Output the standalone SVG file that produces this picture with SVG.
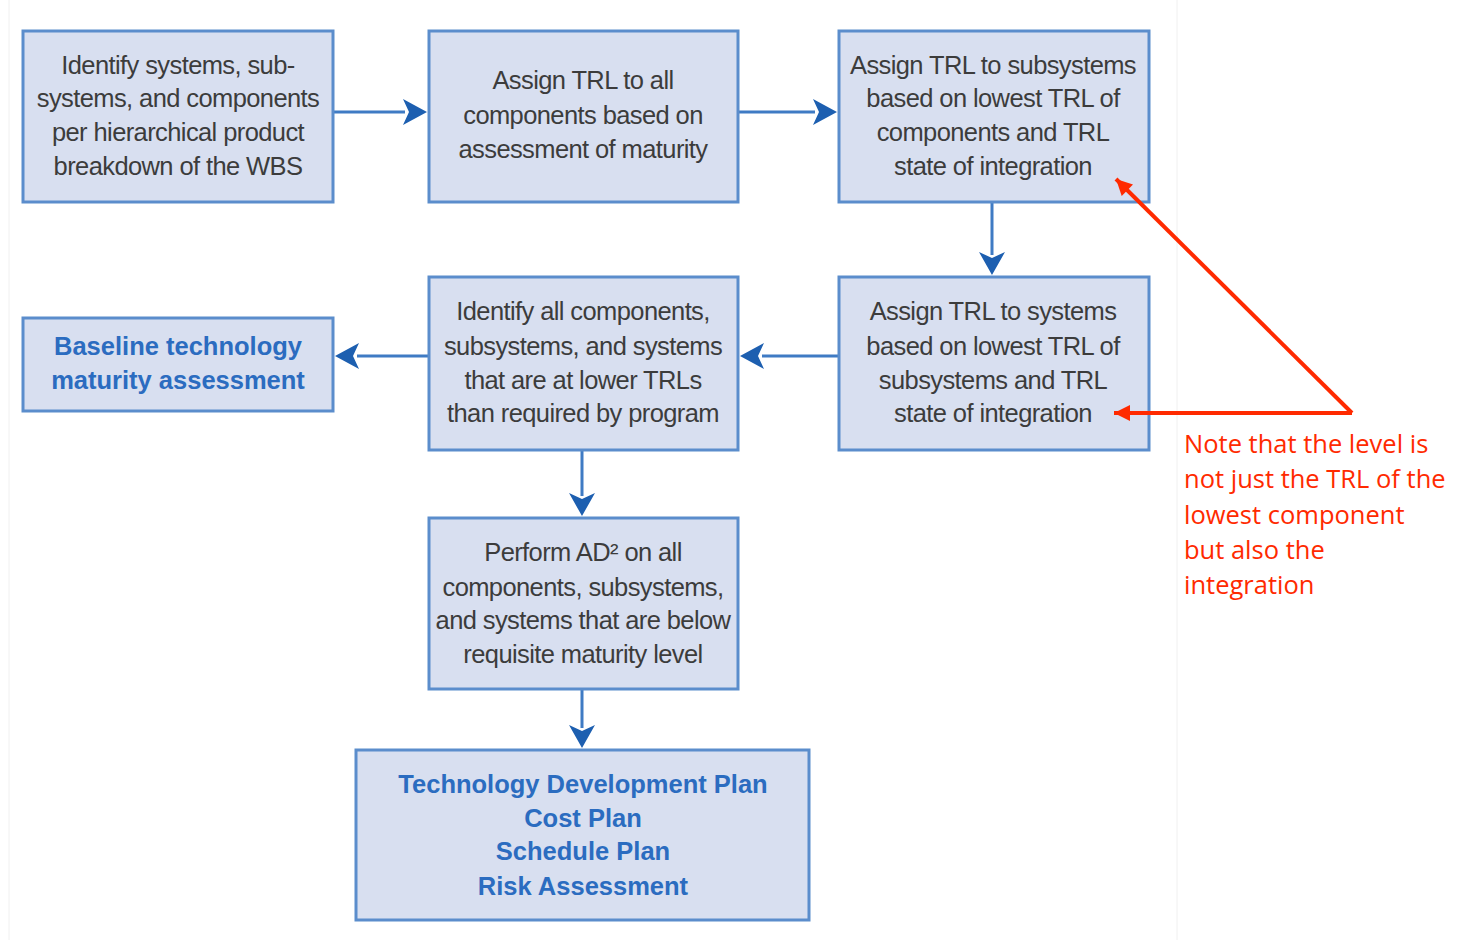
<svg xmlns="http://www.w3.org/2000/svg" width="1457" height="940" viewBox="0 0 1457 940">
<defs>
<style>
.box{fill:#d8dff0;stroke:#5b8dcc;stroke-width:3}
.t{font-family:"Liberation Sans",Arial,sans-serif;font-size:25.5px;fill:#3c3c3c;text-anchor:middle;letter-spacing:-0.6px}
.b{font-family:"Liberation Sans",Arial,sans-serif;font-size:25.5px;font-weight:bold;fill:#2b6cc0;text-anchor:middle}
.c{fill:none;stroke:#3f7bc4;stroke-width:3}
.r{fill:none;stroke:#ff2a00;stroke-width:4}
.note{font-family:"Open Sans","Liberation Sans",sans-serif;font-size:25.5px;fill:#ff2a00}
</style>
<marker id="ar" viewBox="0 0 10 10" refX="10" refY="5" markerWidth="20" markerHeight="16" markerUnits="userSpaceOnUse" orient="auto">
<path d="M0,0 L10,5 L0,10 Z" fill="#ff2a00"/>
</marker>
</defs>
<rect width="1457" height="940" fill="#ffffff"/>
<line x1="9" y1="0" x2="9" y2="940" stroke="#f0f0f0" stroke-width="1"/>
<line x1="1177" y1="0" x2="1177" y2="940" stroke="#f0f0f0" stroke-width="1"/>

<g id="connectors">
<path class="c" d="M333,112 H405"/>
<path d="M403,99 L427,112 L403,125 L409,112 Z" fill="#1d5fb0"/>
<path class="c" d="M738,112 H815"/>
<path d="M813,99 L837,112 L813,125 L819,112 Z" fill="#1d5fb0"/>
<path class="c" d="M992,202 V255"/>
<path d="M979,252 L992,275 L1005,252 L992,258 Z" fill="#1d5fb0"/>
<path class="c" d="M839,356 H762"/>
<path d="M764,343 L740,356 L764,369 L758,356 Z" fill="#1d5fb0"/>
<path class="c" d="M429,356 H357"/>
<path d="M359,343 L335,356 L359,369 L353,356 Z" fill="#1d5fb0"/>
<path class="c" d="M582,450 V496"/>
<path d="M569,493 L582,516 L595,493 L582,499 Z" fill="#1d5fb0"/>
<path class="c" d="M582,689 V728"/>
<path d="M569,725 L582,748 L595,725 L582,731 Z" fill="#1d5fb0"/>
</g>

<g id="n1">
<rect class="box" x="23" y="31" width="310" height="171"/>
<text class="t" x="178" y="74">Identify systems, sub-</text>
<text class="t" x="178" y="107">systems, and components</text>
<text class="t" x="178" y="141">per hierarchical product</text>
<text class="t" x="178" y="175">breakdown of the WBS</text>
</g>
<g id="n2">
<rect class="box" x="429" y="31" width="309" height="171"/>
<text class="t" x="583" y="89">Assign TRL to all</text>
<text class="t" x="583" y="124">components based on</text>
<text class="t" x="583" y="158">assessment of maturity</text>
</g>
<g id="n3">
<rect class="box" x="839" y="31" width="310" height="171"/>
<text class="t" x="993" y="74">Assign TRL to subsystems</text>
<text class="t" x="993" y="107">based on lowest TRL of</text>
<text class="t" x="993" y="141">components and TRL</text>
<text class="t" x="993" y="175">state of integration</text>
</g>
<g id="n4">
<rect class="box" x="839" y="277" width="310" height="173"/>
<text class="t" x="993" y="320">Assign TRL to systems</text>
<text class="t" x="993" y="355">based on lowest TRL of</text>
<text class="t" x="993" y="389">subsystems and TRL</text>
<text class="t" x="993" y="422">state of integration</text>
</g>
<g id="n5">
<rect class="box" x="429" y="277" width="309" height="173"/>
<text class="t" x="583" y="320">Identify all components,</text>
<text class="t" x="583" y="355">subsystems, and systems</text>
<text class="t" x="583" y="389">that are at lower TRLs</text>
<text class="t" x="583" y="422">than required by program</text>
</g>
<g id="n6">
<rect class="box" x="23" y="318" width="310" height="93"/>
<text class="b" x="178" y="355">Baseline technology</text>
<text class="b" x="178" y="389">maturity assessment</text>
</g>
<g id="n7">
<rect class="box" x="429" y="518" width="309" height="171"/>
<text class="t" x="583" y="561">Perform AD² on all</text>
<text class="t" x="583" y="596">components, subsystems,</text>
<text class="t" x="583" y="629">and systems that are below</text>
<text class="t" x="583" y="663">requisite maturity level</text>
</g>
<g id="n8">
<rect class="box" x="356" y="750" width="453" height="170"/>
<text class="b" x="583" y="793">Technology Development Plan</text>
<text class="b" x="583" y="827">Cost Plan</text>
<text class="b" x="583" y="860">Schedule Plan</text>
<text class="b" x="583" y="895">Risk Assessment</text>
</g>
<g id="annotation-connectors">
<path class="r" d="M1352,413 L1116,179" marker-end="url(#ar)"/>
<path class="r" d="M1352,413 H1114" marker-end="url(#ar)"/>
</g>
<g id="note">
<text class="note" x="1184" y="453">Note that the level is</text>
<text class="note" x="1184" y="488">not just the TRL of the</text>
<text class="note" x="1184" y="524">lowest component</text>
<text class="note" x="1184" y="559">but also the</text>
<text class="note" x="1184" y="594">integration</text>
</g>
</svg>
